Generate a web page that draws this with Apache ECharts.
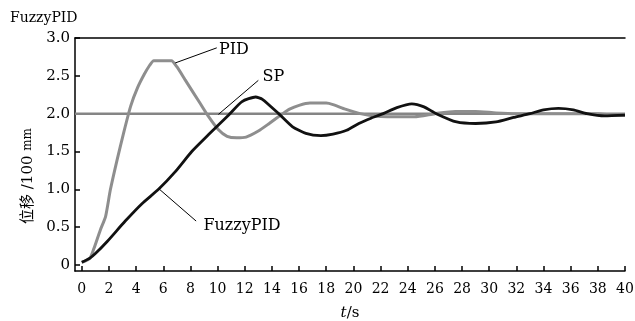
<!DOCTYPE html>
<html>
<head>
<meta charset="utf-8">
<script src="https://cdn.jsdelivr.net/npm/echarts@6.0.0/dist/echarts.min.js"></script>
<style>html,body{margin:0;padding:0;background:#fff;}#c{width:635px;height:321px;}</style>
</head>
<body>
<div id="c"></div>
<script>
// ---- data (t in s, displacement in 100 mm) ----
const xTicks = [0,2,4,6,8,10,12,14,16,18,20,22,24,26,28,30,32,34,36,38,40];
const yTicks = [0,0.5,1.0,1.5,2.0,2.5,3.0];

const spT = [-0.5, 40];
const spV = [2.0, 2.0];

const pidT = [0, 0.6, 0.9, 1.36, 1.75, 2.1, 2.6, 3.1, 3.6, 4.1, 4.6, 5.0, 5.3, 6.6, 7.0, 7.6, 8.7, 9.3, 10.05, 10.7, 11.4, 12.1, 13.0, 13.8, 14.8, 15.3, 16.0, 16.8, 18.0, 18.5, 19.4, 20.5, 21.5, 22.5, 24.5, 26.0, 27.5, 29.0, 30.5, 32, 34, 36, 38, 39.3, 40];
const pidV = [0.035, 0.09, 0.22, 0.46, 0.64, 0.99, 1.39, 1.76, 2.10, 2.34, 2.52, 2.64, 2.70, 2.70, 2.62, 2.45, 2.14, 1.97, 1.79, 1.70, 1.68, 1.69, 1.77, 1.87, 2.00, 2.06, 2.11, 2.14, 2.14, 2.12, 2.06, 2.00, 1.97, 1.96, 1.96, 2.00, 2.03, 2.03, 2.01, 2.00, 2.00, 2.00, 2.00, 1.98, 1.98];

const fuzzyT = [0, 0.6, 1.0, 1.87, 3.2, 4.43, 5.65, 6.87, 8.1, 9.32, 10.8, 11.8, 12.8, 13.3, 14.5, 15.5, 16.5, 17.6, 18.5, 19.5, 20.4, 21.3, 22.2, 23.2, 24.3, 25.2, 26.1, 27.6, 29.0, 30.5, 31.8, 33.0, 34.0, 35.1, 36.2, 37.2, 38.5, 40];
const fuzzyV = [0.035, 0.09, 0.15, 0.31, 0.58, 0.81, 1.00, 1.23, 1.50, 1.72, 1.98, 2.16, 2.22, 2.19, 2.00, 1.83, 1.74, 1.71, 1.73, 1.78, 1.87, 1.94, 2.00, 2.08, 2.13, 2.09, 2.00, 1.89, 1.87, 1.89, 1.95, 2.00, 2.05, 2.07, 2.05, 2.00, 1.97, 1.98];

// annotations (data coordinates)
const labelNames = ['PID', 'SP', 'FuzzyPID'];
const leaderFrom = [[6.88, 2.67], [10.06, 1.99], [5.72, 1.00]];
const leaderTo   = [[9.94, 2.87], [13.0, 2.44], [8.42, 0.58]];
const labelAt    = [[10.1, 2.84], [13.3, 2.49], [8.95, 0.515]];

const FONT = '"DejaVu Serif", "Noto Sans CJK SC", serif';

function zip(a, b) { return a.map((v, i) => [v, b[i]]); }
function annot(i) {
  return {
    markLine: {
      silent: true, animation: false, symbol: ['none', 'none'],
      lineStyle: { color: '#000', width: 1, type: 'solid' },
      label: { show: false },
      data: [[{ coord: leaderFrom[i] }, { coord: leaderTo[i] }]]
    },
    markPoint: {
      silent: true, animation: false,
      symbol: 'circle', symbolSize: 0.1,
      itemStyle: { color: 'transparent' },
      label: { show: true, position: 'right', distance: 0, color: '#000', fontFamily: FONT, fontSize: 16, formatter: labelNames[i] },
      data: [{ coord: labelAt[i] }]
    }
  };
}

const chart = echarts.init(document.getElementById('c'), null, { renderer: 'canvas' });
chart.setOption({
  animation: false,
  backgroundColor: '#fff',
  title: { text: 'FuzzyPID', left: 5, top: 6, textStyle: { fontFamily: FONT, fontSize: 14, fontWeight: 'normal', color: '#000' } },
  grid: { left: 75, right: 10, top: 38, bottom: 50, containLabel: false, outerBoundsMode: 'none' },
  xAxis: [{
    type: 'value', min: -0.5, max: 40,
    name: '{i|t}/s', nameLocation: 'middle', nameGap: 35,
    nameTextStyle: { fontFamily: FONT, fontSize: 15, color: '#000', rich: { i: { fontFamily: FONT, fontSize: 15, fontStyle: 'italic', color: '#000' } } },
    axisLine: { show: true, onZero: false, lineStyle: { color: '#000', width: 1.5 } },
    axisTick: { show: true, inside: true, length: 5, customValues: xTicks, lineStyle: { color: '#000', width: 1.5 } },
    axisLabel: { customValues: xTicks, margin: 11, fontFamily: FONT, fontSize: 14, color: '#000' },
    splitLine: { show: false }
  }, {
    type: 'value', min: -0.5, max: 40, position: 'top',
    axisLine: { show: true, onZero: false, lineStyle: { color: '#000', width: 1.5 } },
    axisTick: { show: false }, axisLabel: { show: false }, splitLine: { show: false }
  }],
  yAxis: {
    type: 'value', min: -0.08, max: 3.0,
    axisLine: { show: true, onZero: false, lineStyle: { color: '#000', width: 1.5 } },
    axisTick: { show: true, inside: true, length: 5, customValues: yTicks, lineStyle: { color: '#000', width: 1.5 } },
    axisLabel: { customValues: yTicks, margin: 5, fontFamily: FONT, fontSize: 15, color: '#000',
      formatter: v => (Math.abs(v) < 1e-9 ? '0' : v.toFixed(1)) },
    splitLine: { show: false }
  },
  graphic: [{
    type: 'text', x: 28, y: 176, rotation: Math.PI / 2,
    style: { text: '位移 /100 {m|mm}', fontFamily: FONT, fontSize: 15, fill: '#000', align: 'center', verticalAlign: 'middle',
      rich: { m: { fontFamily: FONT, fontSize: 12, fill: '#000' } } }
  }],
  series: [
    Object.assign({ name: 'SP', type: 'line', data: zip(spT, spV), showSymbol: false, symbol: 'none',
      lineStyle: { color: '#858585', width: 2.5 }, z: 2 }, annot(1)),
    Object.assign({ name: 'PID', type: 'line', data: zip(pidT, pidV), showSymbol: false, symbol: 'none', smooth: 0.2,
      lineStyle: { color: '#8e8e8e', width: 3 }, z: 3 }, annot(0)),
    Object.assign({ name: 'FuzzyPID', type: 'line', data: zip(fuzzyT, fuzzyV), showSymbol: false, symbol: 'none', smooth: 0.2,
      lineStyle: { color: '#111', width: 2.8 }, z: 4 }, annot(2))
  ]
});
</script>
</body>
</html>
